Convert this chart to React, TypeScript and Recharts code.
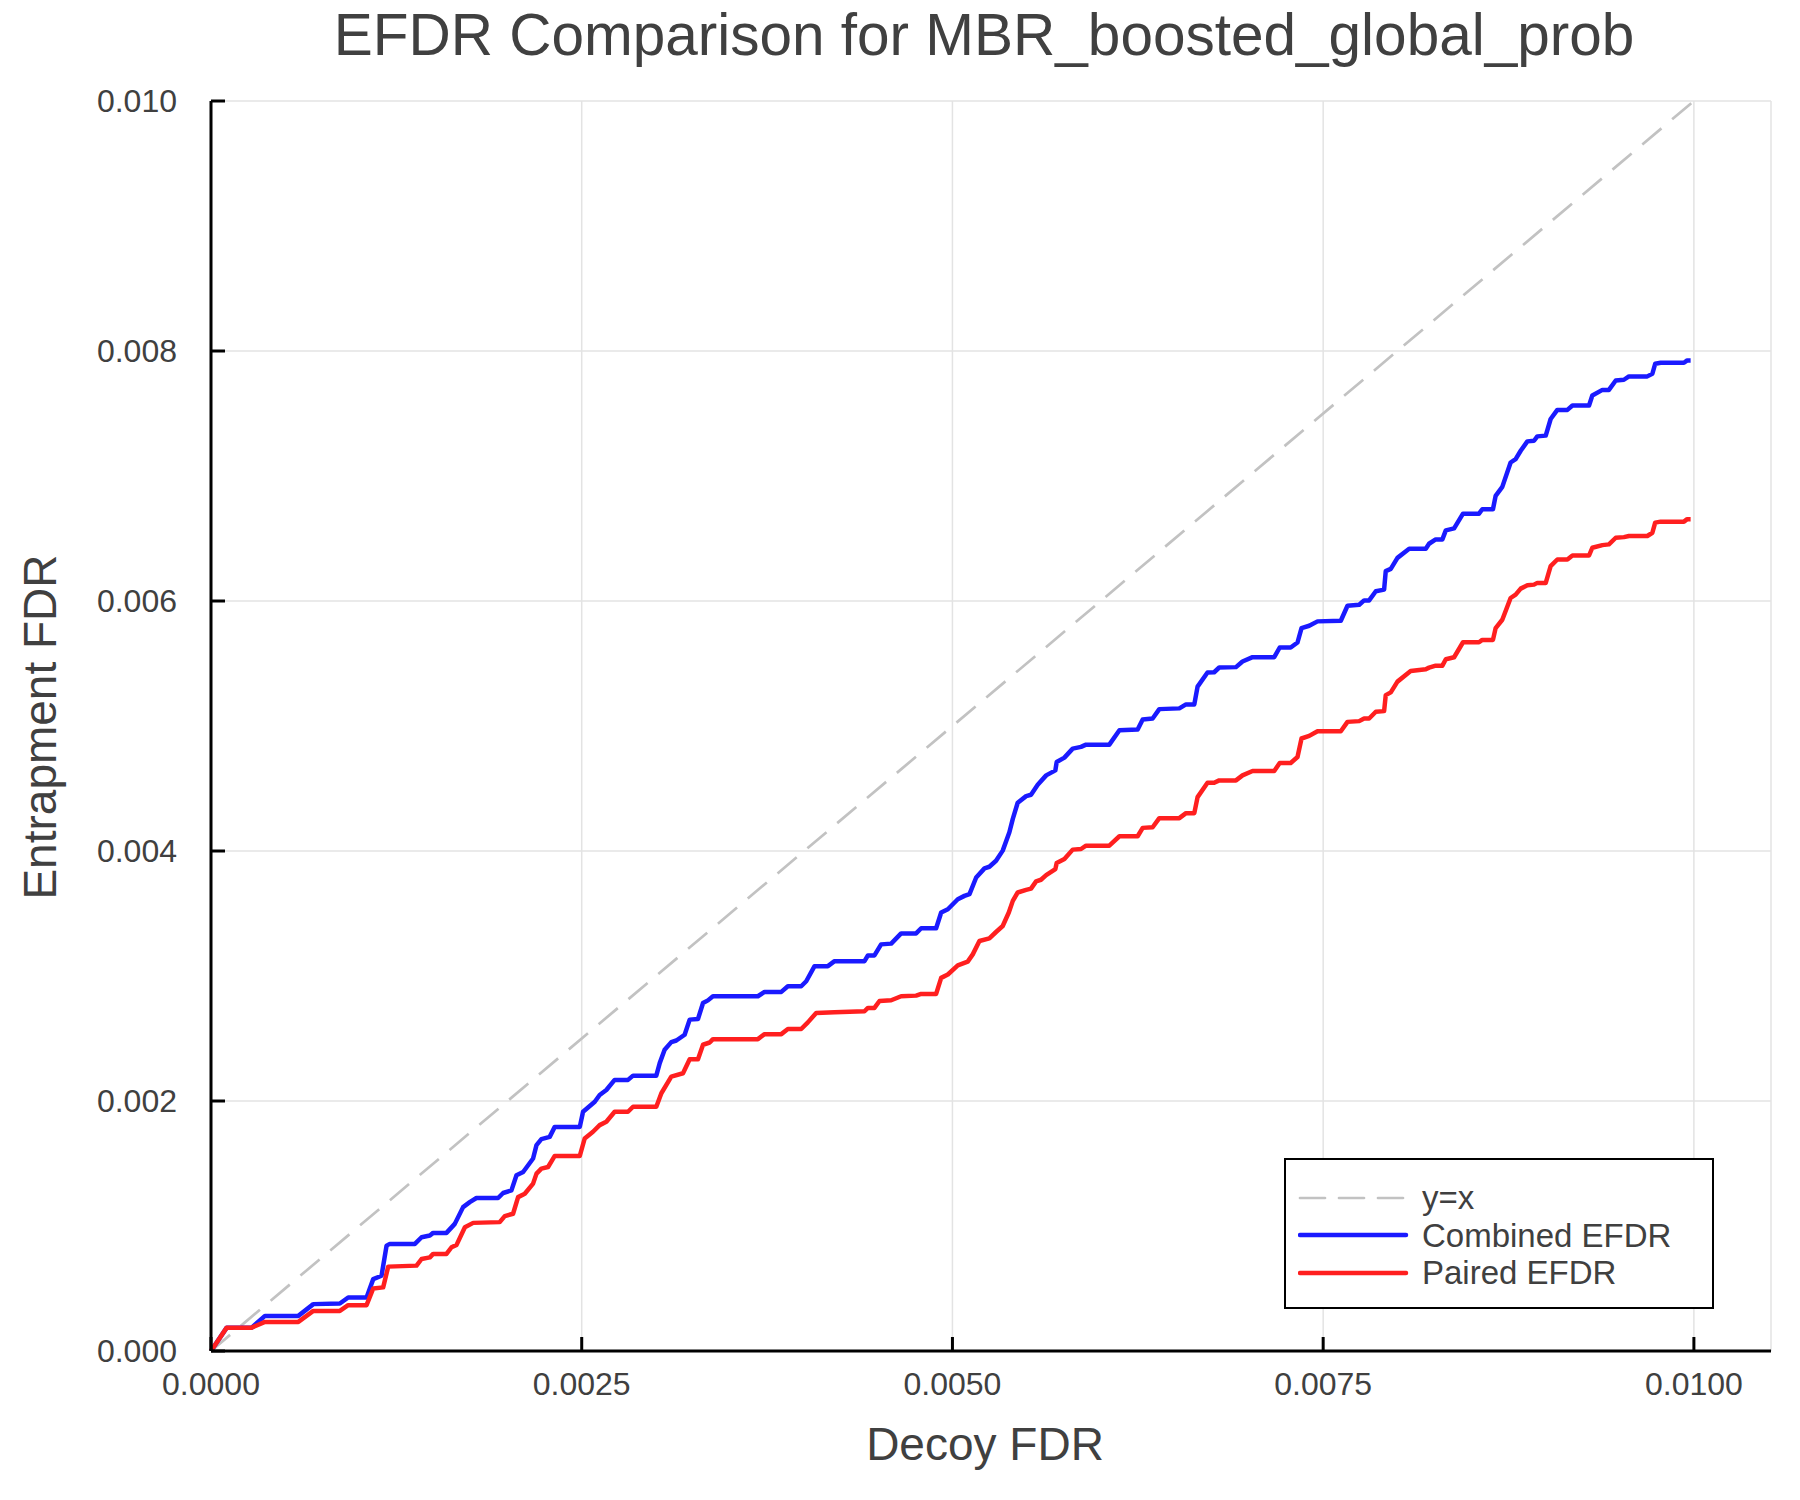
import { LineChart, Line, XAxis, YAxis, CartesianGrid, Legend } from "recharts";

// readings taken off the reference plot: [decoy FDR, entrapment FDR]
const combinedEfdr: [number, number][] = [
  [0, 0], [0.000106, 0.000187], [0.000274, 0.000187], [0.000364, 0.000281], [0.000589, 0.000281],
  [0.00069, 0.000375], [0.000869, 0.00038], [0.000925, 0.000428], [0.001049, 0.000428],
  [0.001094, 0.000575], [0.00115, 0.000602], [0.001184, 0.000843], [0.001206, 0.000857],
  [0.001375, 0.000857], [0.00142, 0.00091], [0.001476, 0.000924], [0.001498, 0.000945],
  [0.001588, 0.000945], [0.001644, 0.001017], [0.0017, 0.001151], [0.001745, 0.001191],
  [0.00179, 0.001224], [0.001936, 0.001224], [0.00197, 0.001264], [0.002026, 0.001285],
  [0.00206, 0.001406], [0.002105, 0.001432], [0.002172, 0.00154], [0.002195, 0.001647],
  [0.002228, 0.001695], [0.002284, 0.001713], [0.002318, 0.001793], [0.002487, 0.001793],
  [0.002509, 0.001914], [0.002588, 0.001994], [0.002621, 0.002048], [0.002666, 0.002088],
  [0.002722, 0.002169], [0.002812, 0.002169], [0.002846, 0.002203], [0.003003, 0.002203],
  [0.003026, 0.002303], [0.003059, 0.00241], [0.003104, 0.002471], [0.003138, 0.002484],
  [0.003194, 0.00253], [0.003228, 0.002651], [0.003284, 0.002656], [0.003318, 0.002784],
  [0.003351, 0.002805], [0.003385, 0.002838], [0.003688, 0.002838], [0.003733, 0.002873],
  [0.003846, 0.002873], [0.00389, 0.002918], [0.00398, 0.002918], [0.004014, 0.002958],
  [0.00407, 0.003079], [0.00416, 0.003079], [0.004205, 0.003119], [0.004407, 0.003119],
  [0.00443, 0.003165], [0.004474, 0.003165], [0.004519, 0.003253], [0.004587, 0.003259],
  [0.004654, 0.003341], [0.004755, 0.003341], [0.004789, 0.003382], [0.00489, 0.003382],
  [0.004924, 0.003508], [0.004969, 0.003534], [0.005036, 0.003614], [0.005081, 0.003641],
  [0.005115, 0.003655], [0.00516, 0.003788], [0.005216, 0.003861], [0.005249, 0.003874],
  [0.005294, 0.003922], [0.005339, 0.004003], [0.005384, 0.00415], [0.005407, 0.004257],
  [0.00544, 0.004386], [0.005497, 0.004439], [0.00553, 0.00445], [0.005575, 0.00453],
  [0.005632, 0.004605], [0.005694, 0.004645], [0.005703, 0.004712], [0.005755, 0.004747],
  [0.005811, 0.004819], [0.005867, 0.004833], [0.005901, 0.004851], [0.006058, 0.004851],
  [0.006126, 0.004966], [0.006249, 0.004972], [0.006283, 0.005052], [0.00635, 0.00506],
  [0.006395, 0.005135], [0.00653, 0.005141], [0.006575, 0.005173], [0.006631, 0.005173],
  [0.006653, 0.005315], [0.00672, 0.005428], [0.006765, 0.00543], [0.006799, 0.005468],
  [0.006912, 0.005471], [0.006956, 0.005516], [0.007024, 0.005551], [0.00717, 0.005551],
  [0.007207, 0.005628], [0.007281, 0.005628], [0.007327, 0.005668], [0.007354, 0.005783],
  [0.007406, 0.005802], [0.007462, 0.005837], [0.007619, 0.005842], [0.007664, 0.005962],
  [0.007743, 0.00597], [0.007776, 0.006005], [0.00781, 0.006005], [0.007855, 0.006078],
  [0.007911, 0.006091], [0.007922, 0.006239], [0.007956, 0.006257], [0.008001, 0.006345],
  [0.00808, 0.006418], [0.008192, 0.006418], [0.008214, 0.006458], [0.008259, 0.006493],
  [0.008304, 0.006493], [0.008327, 0.006565], [0.008383, 0.006581], [0.008443, 0.006699],
  [0.008551, 0.006699], [0.008573, 0.006734], [0.008645, 0.006734], [0.008663, 0.006841],
  [0.008708, 0.006913], [0.008764, 0.007108], [0.008798, 0.007135], [0.008832, 0.007202],
  [0.008877, 0.007277], [0.008922, 0.007282], [0.008944, 0.007317], [0.009001, 0.007323],
  [0.009034, 0.007456], [0.009079, 0.007529], [0.009147, 0.007529], [0.009181, 0.007564],
  [0.009293, 0.007564], [0.009315, 0.007644], [0.009383, 0.007689], [0.009427, 0.007689],
  [0.009473, 0.007764], [0.009528, 0.00777], [0.009562, 0.007797], [0.009686, 0.007797],
  [0.00972, 0.007818], [0.009739, 0.007898], [0.009776, 0.007906], [0.009933, 0.007906],
  [0.009955, 0.007925], [0.009978, 0.007925],
];

const pairedEfdr: [number, number][] = [
  [0, 0], [0.000106, 0.000187], [0.000274, 0.000187], [0.000364, 0.000233], [0.000589, 0.000233],
  [0.00069, 0.000321], [0.000869, 0.000321], [0.000925, 0.000367], [0.001049, 0.000367],
  [0.001094, 0.0005], [0.001161, 0.000509], [0.001195, 0.000675], [0.001386, 0.000683],
  [0.00142, 0.000736], [0.001476, 0.000749], [0.001498, 0.000777], [0.001588, 0.000777],
  [0.001622, 0.00083], [0.001656, 0.000849], [0.001712, 0.00099], [0.001768, 0.001025],
  [0.001947, 0.001031], [0.001981, 0.001079], [0.002037, 0.001098], [0.002071, 0.001231],
  [0.002116, 0.001258], [0.002172, 0.001339], [0.002195, 0.001419], [0.002228, 0.001459],
  [0.002273, 0.001472], [0.002318, 0.001561], [0.002487, 0.001561], [0.00252, 0.0017],
  [0.002576, 0.001754], [0.002621, 0.001807], [0.002666, 0.001834], [0.002722, 0.001914],
  [0.002812, 0.001914], [0.002846, 0.001954], [0.003003, 0.001954], [0.003037, 0.002062],
  [0.003104, 0.002195], [0.003183, 0.002222], [0.003228, 0.002334], [0.003284, 0.002334],
  [0.003318, 0.00245], [0.003363, 0.002468], [0.003385, 0.002495], [0.003688, 0.002495],
  [0.003733, 0.002535], [0.003846, 0.002535], [0.00389, 0.002576], [0.00398, 0.002576],
  [0.004025, 0.002629], [0.004081, 0.002704], [0.004205, 0.00271], [0.004407, 0.002718],
  [0.00443, 0.002745], [0.004474, 0.002745], [0.004508, 0.0028], [0.004587, 0.002806],
  [0.004654, 0.002838], [0.004755, 0.002843], [0.004789, 0.002857], [0.00489, 0.002857],
  [0.004924, 0.002985], [0.004969, 0.003012], [0.005036, 0.003085], [0.005103, 0.003115],
  [0.005137, 0.003173], [0.005182, 0.00328], [0.005249, 0.003301], [0.005294, 0.003352],
  [0.005339, 0.0034], [0.00538, 0.003508], [0.005407, 0.003601], [0.00544, 0.003668],
  [0.005497, 0.003689], [0.00553, 0.003699], [0.005564, 0.003757], [0.005597, 0.00377],
  [0.005632, 0.003807], [0.005694, 0.003855], [0.005703, 0.003904], [0.005755, 0.003936],
  [0.005811, 0.004011], [0.005867, 0.004016], [0.005901, 0.004043], [0.006058, 0.004043],
  [0.006126, 0.004118], [0.006249, 0.004118], [0.006283, 0.004185], [0.00635, 0.00419],
  [0.006395, 0.004263], [0.00653, 0.004263], [0.006575, 0.004303], [0.006631, 0.004303],
  [0.006653, 0.004431], [0.00672, 0.004546], [0.006765, 0.004546], [0.006799, 0.004565],
  [0.006912, 0.004565], [0.006956, 0.004605], [0.007024, 0.00464], [0.00717, 0.00464],
  [0.007207, 0.004704], [0.007281, 0.004704], [0.007327, 0.004752], [0.007354, 0.0049],
  [0.007406, 0.004921], [0.007462, 0.004958], [0.007619, 0.004958], [0.007664, 0.005033],
  [0.007743, 0.005039], [0.007776, 0.00506], [0.00781, 0.00506], [0.007855, 0.005114],
  [0.007911, 0.005119], [0.007922, 0.005247], [0.007956, 0.005269], [0.008001, 0.005355],
  [0.00809, 0.00544], [0.008192, 0.005454], [0.008214, 0.005467], [0.008259, 0.005483],
  [0.008304, 0.005483], [0.008327, 0.005534], [0.008383, 0.00555], [0.008443, 0.00567],
  [0.008551, 0.00567], [0.008573, 0.005689], [0.008645, 0.005689], [0.008663, 0.005783],
  [0.008708, 0.00585], [0.008764, 0.006024], [0.008798, 0.006051], [0.008832, 0.006099],
  [0.008877, 0.006126], [0.008922, 0.006131], [0.008944, 0.006145], [0.009001, 0.006145],
  [0.009034, 0.006279], [0.009079, 0.006332], [0.009147, 0.006332], [0.009181, 0.006364],
  [0.009293, 0.006364], [0.009315, 0.006426], [0.009383, 0.006447], [0.009427, 0.006453],
  [0.009473, 0.006506], [0.009528, 0.006511], [0.009562, 0.00652], [0.009686, 0.00652],
  [0.00972, 0.006546], [0.009739, 0.006627], [0.009776, 0.006635], [0.009933, 0.006635],
  [0.009955, 0.006655], [0.009978, 0.006655],
];

const identityLine: [number, number][] = [[0, 0], [0.01, 0.01]];

const xTicks = [0, 0.0025, 0.005, 0.0075, 0.01];
const yTicks = [0, 0.002, 0.004, 0.006, 0.008, 0.01];
const legendOrder = ["y=x", "Combined EFDR", "Paired EFDR"];

const FONT = '"Liberation Sans", Arial, Helvetica, sans-serif';
const TEXT = "#404040";

const toPoints = (rows: [number, number][]) => rows.map(([x, y]) => ({ x, y }));

function LegendBox({ payload }: any) {
  const items = legendOrder
    .map((name) => (payload || []).find((p: any) => p.value === name))
    .filter(Boolean);
  return (
    <div
      style={{
        boxSizing: "border-box", width: 430, height: 151, border: "2.5px solid #000",
        background: "#fff", paddingTop: 19, fontFamily: FONT,
      }}
    >
      {items.map((item: any) => {
        const dash = item.payload?.strokeDasharray;
        return (
          <div key={item.value} style={{ display: "flex", alignItems: "center", height: 37.5 }}>
            <svg width={120} height={10} style={{ marginLeft: 12, flexShrink: 0 }}>
              <line
                x1={2} y1={5} x2={108} y2={5}
                stroke={item.color}
                strokeWidth={dash ? 2.7 : 4.5}
                strokeDasharray={dash}
                strokeLinecap="round"
              />
            </svg>
            <span style={{ marginLeft: 4, fontSize: 33, color: TEXT, lineHeight: "37.5px", whiteSpace: "nowrap" }}>
              {item.value}
            </span>
          </div>
        );
      })}
    </div>
  );
}

export default function App() {
  const tickStyle = { fill: TEXT, fontSize: 32, fontFamily: FONT };
  return (
    <div style={{ position: "absolute", left: 0, top: 0, width: 1800, height: 1500, background: "#fff" }}>
      <LineChart width={1800} height={1500} margin={{ top: 101, right: 29, bottom: 0, left: 0 }}>
        <CartesianGrid stroke="#e3e3e3" strokeWidth={1.5} />
        <XAxis
          type="number"
          dataKey="x"
          domain={[0, 0.01052]}
          ticks={xTicks}
          interval={0}
          height={149}
          tickFormatter={(v: number) => v.toFixed(4)}
          tick={tickStyle}
          tickSize={-14}
          tickMargin={35}
          tickLine={{ stroke: "#000", strokeWidth: 3 }}
          axisLine={{ stroke: "#000", strokeWidth: 3 }}
        />
        <YAxis
          type="number"
          domain={[0, 0.01]}
          ticks={yTicks}
          interval={0}
          width={211}
          tickFormatter={(v: number) => v.toFixed(3)}
          tick={tickStyle}
          tickSize={-14}
          tickMargin={48}
          tickLine={{ stroke: "#000", strokeWidth: 3 }}
          axisLine={{ stroke: "#000", strokeWidth: 3 }}
        />
        <Legend
          layout="vertical"
          align="center"
          verticalAlign="middle"
          content={<LegendBox />}
          wrapperStyle={{ left: 1284, top: 1158, width: 430, height: 151 }}
        />
        <Line
          name="y=x"
          data={toPoints(identityLine)}
          dataKey="y"
          type="linear"
          stroke="#c2c2c2"
          strokeWidth={2.7}
          strokeDasharray="25 14"
          dot={false}
          isAnimationActive={false}
        />
        <Line
          name="Combined EFDR"
          data={toPoints(combinedEfdr)}
          dataKey="y"
          type="linear"
          stroke="#1a1aff"
          strokeWidth={4.5}
          strokeLinejoin="round"
          dot={false}
          isAnimationActive={false}
        />
        <Line
          name="Paired EFDR"
          data={toPoints(pairedEfdr)}
          dataKey="y"
          type="linear"
          stroke="#ff1f1f"
          strokeWidth={4.5}
          strokeLinejoin="round"
          dot={false}
          isAnimationActive={false}
        />
      </LineChart>

      {/* title and axis titles */}
      <svg
        width={1800}
        height={1500}
        style={{ position: "absolute", left: 0, top: 0, pointerEvents: "none" }}
        fontFamily={FONT}
        fill={TEXT}
      >
        <text x={984} y={55} fontSize={58.5} textAnchor="middle">
          EFDR Comparison for MBR_boosted_global_prob
        </text>
        <text x={985} y={1460} fontSize={46} textAnchor="middle">
          Decoy FDR
        </text>
        <text transform="translate(56, 727) rotate(-90)" fontSize={46} textAnchor="middle">
          Entrapment FDR
        </text>
      </svg>
    </div>
  );
}
